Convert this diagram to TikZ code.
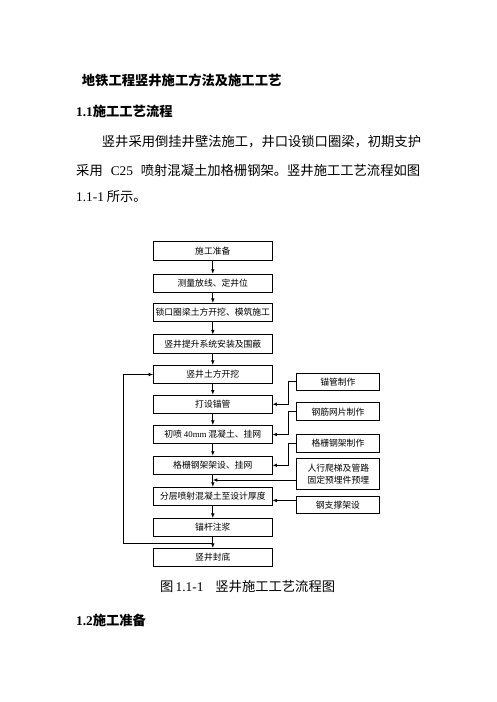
\documentclass[tikz,border=0pt]{standalone}
\usepackage{fontspec}
\setmainfont{Liberation Serif}
\newfontfamily\cjk{Noto Sans CJK SC}
\usepackage{tikz}
\usetikzlibrary{arrows.meta}

\begin{document}
\begin{tikzpicture}[x=1pt,y=-1pt,
  box/.style={draw,line width=0.8pt,minimum width=118.5pt,minimum height=18.3pt,inner sep=0pt,font=\cjk\fontsize{8.8}{10}\selectfont},
  side/.style={box,minimum width=83pt},
  txt/.style={anchor=base west,inner sep=0pt,font=\cjk\fontsize{13.3}{16}\selectfont},
  arr/.style={-{Latex[length=4.5pt,width=3.6pt]},line width=0.8pt}]
\useasboundingbox (0,0) rectangle (496,702);
\node[txt,font=\cjk\bfseries\fontsize{13.3}{16}\selectfont] (title) at (81.7,85) {地铁工程竖井施工方法及施工工艺};
\node[txt,font=\cjk\bfseries\fontsize{13.3}{16}\selectfont] (sec1) at (76,116.7) {\textrm{1.1}施工工艺流程};
\node[txt] (par1) at (101.7,146.7) {竖井采用倒挂井壁法施工，井口设锁口圈梁，初期支护};
\node[txt] (par2) at (76,175) {\makebox[344pt][s]{采用 \textrm{C25} 喷射混凝土加格栅钢架。竖井施工工艺流程如图}};
\node[txt] (par3) at (76,201.7) {\textrm{1.1-1} 所示。};
\node[box] (n1) at (212.8,251) {施工准备};
\node[box] (n2) at (212.8,283.3) {测量放线、定井位};
\node[box] (n3) at (212.8,312.5) {锁口圈梁土方开挖、模筑施工};
\node[box] (n4) at (212.8,344) {竖井提升系统安装及围蔽};
\node[box] (n5) at (212.8,374.5) {竖井土方开挖};
\node[box] (n6) at (212.8,404.2) {打设锚管};
\node[box] (n7) at (212.8,434.5) {初喷 \textrm{40mm} 混凝土、挂网};
\node[box] (n8) at (212.8,465.3) {格栅钢架架设、挂网};
\node[box] (n9) at (212.8,496.4) {分层喷射混凝土至设计厚度};
\node[box] (n10) at (212.8,527.5) {锚杆注浆};
\node[box] (n11) at (212.8,557.5) {竖井封底};
\node[side,minimum height=16.7pt] (r1) at (337.9,381.7) {锚管制作};
\node[side] (r2) at (337.9,411.7) {钢筋网片制作};
\node[side] (r3) at (337.9,443.3) {格栅钢架制作};
\node[side,minimum height=30.7pt,align=center,font=\cjk\fontsize{8.8}{12}\selectfont] (r4) at (338.3,473.7) {人行爬梯及管路\\固定预埋件预埋};
\node[side,minimum height=16.7pt] (r5) at (337.9,505) {钢支撑架设};
\foreach \a/\b in {n1/n2,n2/n3,n3/n4,n4/n5,n5/n6,n6/n7,n7/n8,n8/n9,n9/n10,n10/n11}
  \draw[arr] (\a) -- (\b);
\draw[arr] (r1.west) -- ++(-8,0) |- (n6.east);
\draw[arr] (r2.west) -- ++(-8,0) |- (n7.east);
\draw[arr] (r3.west) -- ++(-8,0) |- (n8.east);
\coordinate (c4) at (212.8,480);
\draw[arr] (r4.west |- c4) -- (c4);
\coordinate (c5) at (0,500.5);
\draw[arr] (r5.west |- c5) -- (n9.east |- c5);
\coordinate (c0) at (212.8,543);
\coordinate (c1) at (123.3,543);
\draw[arr] (c0) -- (c1) |- (n5.west);
\node[txt] (cap) at (160,591) {图\,\textrm{1.1-1}\hspace{12pt}竖井施工工艺流程图};
\node[txt,font=\cjk\bfseries\fontsize{13.3}{16}\selectfont] (sec2) at (76,625) {\textrm{1.2}施工准备};
\end{tikzpicture}
\end{document}
